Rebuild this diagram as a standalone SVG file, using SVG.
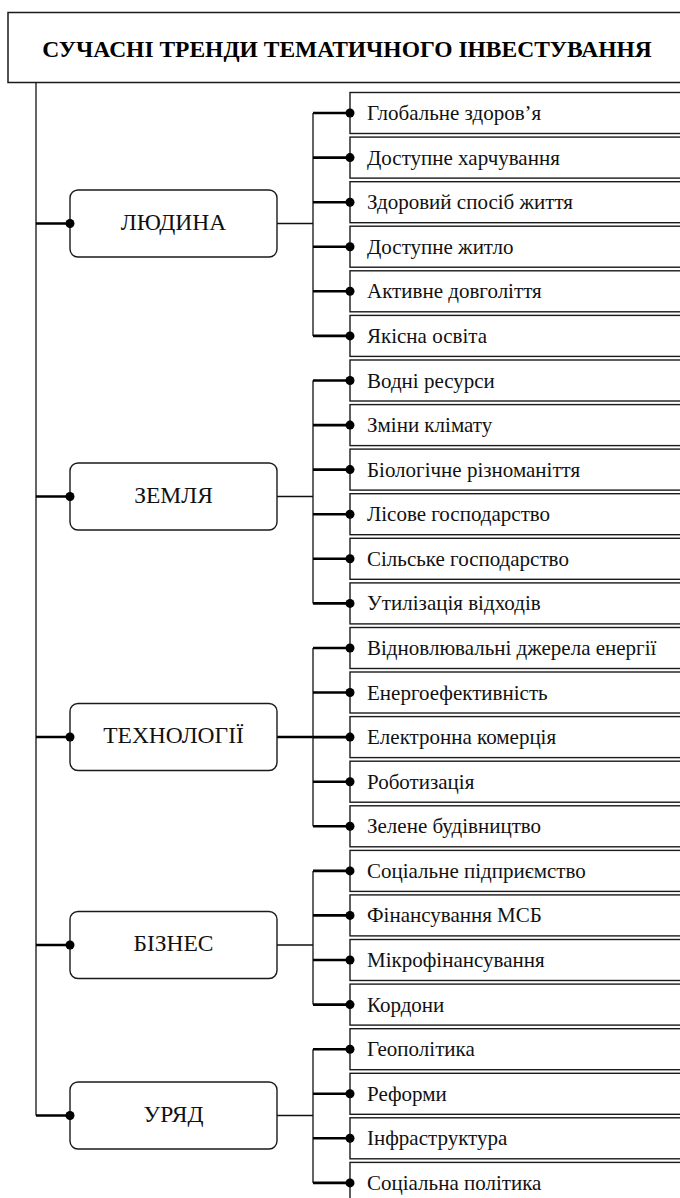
<svg xmlns="http://www.w3.org/2000/svg" width="680" height="1198" viewBox="0 0 680 1198">
<style>
.title{font-family:"Liberation Serif","Times New Roman",serif;font-size:23.5px;font-weight:bold;fill:#000}
.gbox{fill:#fff;stroke:#1a1a1a;stroke-width:1.4}
.gtxt{font-family:"Liberation Serif","Times New Roman",serif;font-size:23.5px;fill:#111;text-anchor:middle}
.ibox{fill:#fff;stroke:#1a1a1a;stroke-width:1.4}
.itxt{font-family:"Liberation Serif","Times New Roman",serif;font-size:21px;fill:#111}
.thin{fill:none;stroke:#111;stroke-width:1.3}
.thick{fill:none;stroke:#000;stroke-width:2.6}
.dot{fill:#000}
</style>
<rect width="680" height="1198" fill="#fff"/>
<g id="title">
<rect x="8" y="12.5" width="690" height="70" fill="#fff" stroke="#1a1a1a" stroke-width="1.5"/>
<text class="title" x="347" y="57" text-anchor="middle">СУЧАСНІ ТРЕНДИ ТЕМАТИЧНОГО ІНВЕСТУВАННЯ</text>
</g>
<g id="connectors">
<path class="thin" d="M36 82.5V1115.5"/>
<path class="thick" d="M36 223.5H70M36 496.5H70M36 737H70M36 945H70M36 1115.5H70"/>
<path class="thin" d="M277 223.5H313M277 496.5H313M277 945H313M277 1115.5H313"/>
<path class="thick" d="M277 737H313"/>
<path class="thin" d="M313 113V335.9M313 380.5V603.4M313 648V826.3M313 870.9V1004.6M313 1049.2V1182.9"/>
<path class="thick" d="M313 113H350M313 157.6H350M313 202.2H350M313 246.7H350M313 291.3H350M313 335.9H350M313 380.5H350M313 425.1H350M313 469.6H350M313 514.2H350M313 558.8H350M313 603.4H350M313 648H350M313 692.5H350M313 737.1H350M313 781.7H350M313 826.3H350M313 870.9H350M313 915.4H350M313 960H350M313 1004.6H350M313 1049.2H350M313 1093.8H350M313 1138.3H350M313 1182.9H350"/>
</g>
<g id="g-people"><rect class="gbox" x="70" y="190" width="207" height="67" rx="8"/><text class="gtxt" x="173.5" y="229.5">ЛЮДИНА</text><circle class="dot" cx="70" cy="223.5" r="4.5"/></g>
<g id="g-earth"><rect class="gbox" x="70" y="463" width="207" height="67" rx="8"/><text class="gtxt" x="173.5" y="502.5">ЗЕМЛЯ</text><circle class="dot" cx="70" cy="496.5" r="4.5"/></g>
<g id="g-tech"><rect class="gbox" x="70" y="703.5" width="207" height="67" rx="8"/><text class="gtxt" x="173.5" y="743">ТЕХНОЛОГІЇ</text><circle class="dot" cx="70" cy="737" r="4.5"/></g>
<g id="g-business"><rect class="gbox" x="70" y="911.5" width="207" height="67" rx="8"/><text class="gtxt" x="173.5" y="951">БІЗНЕС</text><circle class="dot" cx="70" cy="945" r="4.5"/></g>
<g id="g-gov"><rect class="gbox" x="70" y="1082" width="207" height="67" rx="8"/><text class="gtxt" x="173.5" y="1121.5">УРЯД</text><circle class="dot" cx="70" cy="1115.5" r="4.5"/></g>
<g id="i0"><rect class="ibox" x="350" y="92.5" width="350" height="41"/><text class="itxt" x="367" y="120">Глобальне здоров’я</text><circle class="dot" cx="350" cy="113" r="4.5"/></g>
<g id="i1"><rect class="ibox" x="350" y="137.1" width="350" height="41"/><text class="itxt" x="367" y="164.6">Доступне харчування</text><circle class="dot" cx="350" cy="157.6" r="4.5"/></g>
<g id="i2"><rect class="ibox" x="350" y="181.7" width="350" height="41"/><text class="itxt" x="367" y="209.2">Здоровий спосіб життя</text><circle class="dot" cx="350" cy="202.2" r="4.5"/></g>
<g id="i3"><rect class="ibox" x="350" y="226.2" width="350" height="41"/><text class="itxt" x="367" y="253.7">Доступне житло</text><circle class="dot" cx="350" cy="246.7" r="4.5"/></g>
<g id="i4"><rect class="ibox" x="350" y="270.8" width="350" height="41"/><text class="itxt" x="367" y="298.3">Активне довголіття</text><circle class="dot" cx="350" cy="291.3" r="4.5"/></g>
<g id="i5"><rect class="ibox" x="350" y="315.4" width="350" height="41"/><text class="itxt" x="367" y="342.9">Якісна освіта</text><circle class="dot" cx="350" cy="335.9" r="4.5"/></g>
<g id="i6"><rect class="ibox" x="350" y="360" width="350" height="41"/><text class="itxt" x="367" y="387.5">Водні ресурси</text><circle class="dot" cx="350" cy="380.5" r="4.5"/></g>
<g id="i7"><rect class="ibox" x="350" y="404.6" width="350" height="41"/><text class="itxt" x="367" y="432.1">Зміни клімату</text><circle class="dot" cx="350" cy="425.1" r="4.5"/></g>
<g id="i8"><rect class="ibox" x="350" y="449.1" width="350" height="41"/><text class="itxt" x="367" y="476.6">Біологічне різноманіття</text><circle class="dot" cx="350" cy="469.6" r="4.5"/></g>
<g id="i9"><rect class="ibox" x="350" y="493.7" width="350" height="41"/><text class="itxt" x="367" y="521.2">Лісове господарство</text><circle class="dot" cx="350" cy="514.2" r="4.5"/></g>
<g id="i10"><rect class="ibox" x="350" y="538.3" width="350" height="41"/><text class="itxt" x="367" y="565.8">Сільське господарство</text><circle class="dot" cx="350" cy="558.8" r="4.5"/></g>
<g id="i11"><rect class="ibox" x="350" y="582.9" width="350" height="41"/><text class="itxt" x="367" y="610.4">Утилізація відходів</text><circle class="dot" cx="350" cy="603.4" r="4.5"/></g>
<g id="i12"><rect class="ibox" x="350" y="627.5" width="350" height="41"/><text class="itxt" x="367" y="655">Відновлювальні джерела енергії</text><circle class="dot" cx="350" cy="648" r="4.5"/></g>
<g id="i13"><rect class="ibox" x="350" y="672" width="350" height="41"/><text class="itxt" x="367" y="699.5">Енергоефективність</text><circle class="dot" cx="350" cy="692.5" r="4.5"/></g>
<g id="i14"><rect class="ibox" x="350" y="716.6" width="350" height="41"/><text class="itxt" x="367" y="744.1">Електронна комерція</text><circle class="dot" cx="350" cy="737.1" r="4.5"/></g>
<g id="i15"><rect class="ibox" x="350" y="761.2" width="350" height="41"/><text class="itxt" x="367" y="788.7">Роботизація</text><circle class="dot" cx="350" cy="781.7" r="4.5"/></g>
<g id="i16"><rect class="ibox" x="350" y="805.8" width="350" height="41"/><text class="itxt" x="367" y="833.3">Зелене будівництво</text><circle class="dot" cx="350" cy="826.3" r="4.5"/></g>
<g id="i17"><rect class="ibox" x="350" y="850.4" width="350" height="41"/><text class="itxt" x="367" y="877.9">Соціальне підприємство</text><circle class="dot" cx="350" cy="870.9" r="4.5"/></g>
<g id="i18"><rect class="ibox" x="350" y="894.9" width="350" height="41"/><text class="itxt" x="367" y="922.4">Фінансування МСБ</text><circle class="dot" cx="350" cy="915.4" r="4.5"/></g>
<g id="i19"><rect class="ibox" x="350" y="939.5" width="350" height="41"/><text class="itxt" x="367" y="967">Мікрофінансування</text><circle class="dot" cx="350" cy="960" r="4.5"/></g>
<g id="i20"><rect class="ibox" x="350" y="984.1" width="350" height="41"/><text class="itxt" x="367" y="1011.6">Кордони</text><circle class="dot" cx="350" cy="1004.6" r="4.5"/></g>
<g id="i21"><rect class="ibox" x="350" y="1028.7" width="350" height="41"/><text class="itxt" x="367" y="1056.2">Геополітика</text><circle class="dot" cx="350" cy="1049.2" r="4.5"/></g>
<g id="i22"><rect class="ibox" x="350" y="1073.3" width="350" height="41"/><text class="itxt" x="367" y="1100.8">Реформи</text><circle class="dot" cx="350" cy="1093.8" r="4.5"/></g>
<g id="i23"><rect class="ibox" x="350" y="1117.8" width="350" height="41"/><text class="itxt" x="367" y="1145.3">Інфраструктура</text><circle class="dot" cx="350" cy="1138.3" r="4.5"/></g>
<g id="i24"><rect class="ibox" x="350" y="1162.4" width="350" height="41"/><text class="itxt" x="367" y="1189.9">Соціальна політика</text><circle class="dot" cx="350" cy="1182.9" r="4.5"/></g>
</svg>
